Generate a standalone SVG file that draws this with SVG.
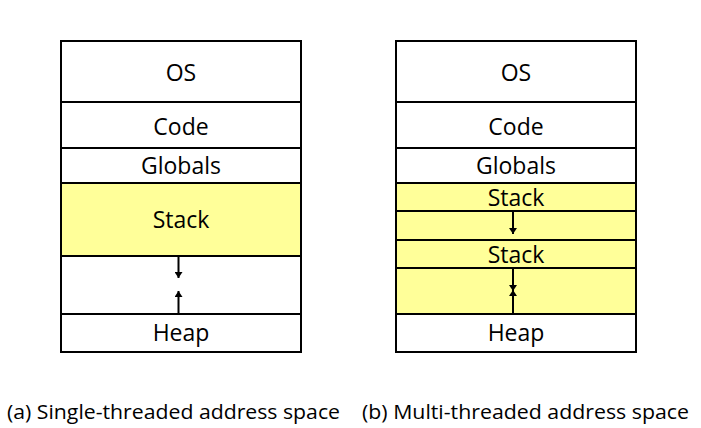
<svg xmlns="http://www.w3.org/2000/svg" width="701" height="428" viewBox="0 0 701 428">
<style>
.b{fill:#fff;stroke:#000;stroke-width:2}
.y{fill:#ffff99;stroke:#000;stroke-width:2}
.t{font-family:"Open Sans","DejaVu Sans",sans-serif;font-size:23px;text-anchor:middle;dominant-baseline:central;fill:#000}
.c{font-family:"Open Sans","DejaVu Sans",sans-serif;font-size:20px;text-anchor:middle;dominant-baseline:central;fill:#000}
.a{stroke:#000;stroke-width:2;fill:none;marker-end:url(#h)}
</style>
<defs>
<marker id="h" viewBox="0 0 6 8" refX="6" refY="4" markerWidth="3" markerHeight="4" orient="auto" markerUnits="strokeWidth">
<path d="M0,0 L6,4 L0,8 Z" fill="#000"/>
</marker>
</defs>
<g id="single">
<g id="s-os"><rect class="b" x="61" y="41" width="240" height="61"/><text class="t" x="181" y="72">OS</text></g>
<g id="s-code"><rect class="b" x="61" y="102" width="240" height="46"/><text class="t" x="181" y="126">Code</text></g>
<g id="s-globals"><rect class="b" x="61" y="148" width="240" height="35"/><text class="t" x="181" y="165">Globals</text></g>
<g id="s-stack"><rect class="y" x="61" y="183" width="240" height="73"/><text class="t" x="181" y="219">Stack</text></g>
<g id="s-free"><rect class="b" x="61" y="256" width="240" height="58"/></g>
<g id="s-heap"><rect class="b" x="61" y="314" width="240" height="38"/><text class="t" x="181" y="332">Heap</text></g>
</g>
<g id="multi">
<g id="m-os"><rect class="b" x="396" y="41" width="240" height="61"/><text class="t" x="516" y="72">OS</text></g>
<g id="m-code"><rect class="b" x="396" y="102" width="240" height="46"/><text class="t" x="516" y="126">Code</text></g>
<g id="m-globals"><rect class="b" x="396" y="148" width="240" height="35"/><text class="t" x="516" y="165">Globals</text></g>
<g id="m-stack1"><rect class="y" x="396" y="183" width="240" height="28"/><text class="t" x="516" y="197">Stack</text></g>
<g id="m-free1"><rect class="y" x="396" y="211" width="240" height="29"/></g>
<g id="m-stack2"><rect class="y" x="396" y="240" width="240" height="28"/><text class="t" x="516" y="254">Stack</text></g>
<g id="m-free2"><rect class="y" x="396" y="268" width="240" height="46"/></g>
<g id="m-heap"><rect class="b" x="396" y="314" width="240" height="38"/><text class="t" x="516" y="332">Heap</text></g>
</g>
<g id="connectors">
<line class="a" x1="178.5" y1="257" x2="178.5" y2="278"/>
<line class="a" x1="178.5" y1="313" x2="178.5" y2="291"/>
<line class="a" x1="513" y1="212" x2="513" y2="234"/>
<line class="a" x1="513" y1="269" x2="513" y2="291"/>
<line class="a" x1="513" y1="313" x2="513" y2="290"/>
</g>
<text class="c" x="173.5" y="411" textLength="333" lengthAdjust="spacingAndGlyphs">(a) Single-threaded address space</text>
<text class="c" x="525.5" y="411" textLength="327" lengthAdjust="spacingAndGlyphs">(b) Multi-threaded address space</text>
</svg>
